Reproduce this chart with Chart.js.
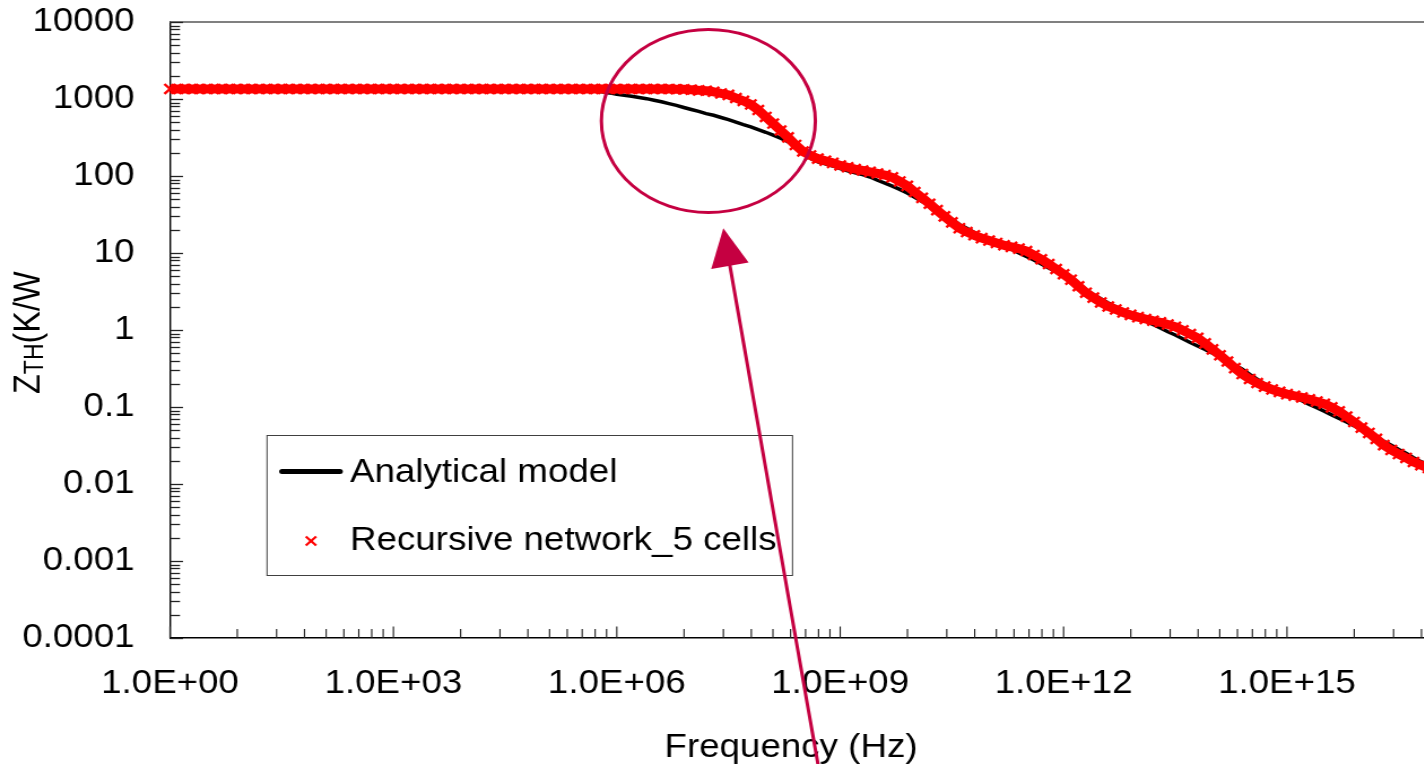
<!DOCTYPE html>
<html><head><meta charset="utf-8">
<script src="https://cdn.jsdelivr.net/npm/chart.js@4.4.1/dist/chart.umd.min.js"></script>
<style>
html,body{margin:0;padding:0;background:#fff;width:1424px;height:764px;overflow:hidden;}
#wrap{position:relative;width:1424px;height:764px;overflow:hidden;background:#fff;}
#c{position:absolute;left:0;top:0;transform:scaleX(1.13);transform-origin:0 0;}
</style></head>
<body><div id="wrap"><canvas id="c" width="1346" height="764" style="width:1346px;height:764px"></canvas></div>
<script>
// ---- data ----
const logFreq = [0,0.1,0.2,0.3,0.4,0.5,0.6,0.7,0.8,0.9,1,1.1,1.2,1.3,1.4,1.5,1.6,1.7,1.8,1.9,2,2.1,2.2,2.3,2.4,2.5,2.6,2.7,2.8,2.9,3,3.1,3.2,3.3,3.4,3.5,3.6,3.7,3.8,3.9,4,4.1,4.2,4.3,4.4,4.5,4.6,4.7,4.8,4.9,5,5.1,5.2,5.3,5.4,5.5,5.6,5.7,5.8,5.9,6,6.1,6.2,6.3,6.4,6.5,6.6,6.7,6.8,6.9,7,7.1,7.2,7.3,7.4,7.5,7.6,7.7,7.8,7.9,8,8.1,8.2,8.3,8.4,8.5,8.6,8.7,8.8,8.9,9,9.1,9.2,9.3,9.4,9.5,9.6,9.7,9.8,9.9,10,10.1,10.2,10.3,10.4,10.5,10.6,10.7,10.8,10.9,11,11.1,11.2,11.3,11.4,11.5,11.6,11.7,11.8,11.9,12,12.1,12.2,12.3,12.4,12.5,12.6,12.7,12.8,12.9,13,13.1,13.2,13.3,13.4,13.5,13.6,13.7,13.8,13.9,14,14.1,14.2,14.3,14.4,14.5,14.6,14.7,14.8,14.9,15,15.1,15.2,15.3,15.4,15.5,15.6,15.7,15.8,15.9,16,16.1,16.2,16.3,16.4,16.5,16.6,16.7,16.8,16.9,17];

const zthAnalytical = [
1350,1350,1350,1350,1350,1350,1350,1350,1350,1350,
1350,1350,1350,1350,1350,1350,1350,1350,1350,1350,
1350,1350,1350,1350,1350,1350,1350,1350,1350,1350,
1350,1350,1350,1350,1350,1350,1350,1350,1350,1350,
1350,1350,1350,1350,1350,1350,1350,1350,1350,1350,
1350,1345,1340,1330,1320,1305,1290,1270,1240,1200,
1150,1120,1085,1045,1010,965,920,870,825,775,
730,690,645,615,575,540,500,465,435,400,
370,340,310,278,245,217,170,153,144,135,
125,117,110,104,97,88,81,74,67,60,
53,46.5,41.5,37,32,27.5,23.5,21,18.5,16.6,
15,13.8,12.3,11.2,10.0,9.0,8.1,7.2,6.4,5.7,
5.0,4.5,3.9,3.3,2.9,2.55,2.25,2.0,1.81,1.62,
1.46,1.31,1.18,1.06,0.95,0.86,0.77,0.69,0.62,0.56,
0.50,0.45,0.40,0.35,0.31,0.265,0.23,0.20,0.18,0.163,
0.15,0.135,0.121,0.108,0.098,0.088,0.079,0.071,0.064,0.057,
0.051,0.046,0.041,0.036,0.032,0.028,0.025,0.022,0.0195,0.0177,
0.0155];

const zthNetwork = [
1350,1350,1350,1350,1350,1350,1350,1350,1350,1350,
1350,1350,1350,1350,1350,1350,1350,1350,1350,1350,
1350,1350,1350,1350,1350,1350,1350,1350,1350,1350,
1350,1350,1350,1350,1350,1350,1350,1350,1350,1350,
1350,1350,1350,1350,1350,1350,1350,1350,1350,1350,
1350,1350,1350,1350,1350,1350,1350,1350,1350,1350,
1350,1350,1350,1350,1350,1350,1350,1350,1340,1335,
1320,1295,1280,1240,1180,1130,1030,945,850,720,
585,480,390,317,253,208,185,168,158,148,
137,130,123,118,113,108,103,96,85,74.5,
62,52,43.6,36,29.9,25,21,18.7,17.0,15.6,
14.5,13.5,12.6,12.0,11.4,10.6,9.4,8.3,7.2,6.2,
5.3,4.5,3.7,3.05,2.63,2.28,2.02,1.85,1.69,1.57,
1.47,1.39,1.32,1.26,1.18,1.10,0.99,0.885,0.79,0.67,
0.56,0.47,0.39,0.32,0.268,0.231,0.205,0.184,0.169,0.157,
0.147,0.140,0.133,0.126,0.118,0.110,0.099,0.088,0.075,0.064,
0.054,0.046,0.0385,0.032,0.0277,0.0245,0.0218,0.0193,0.0176,0.0161,
0.0150];

const seriesNames = ['Analytical model', 'Recursive network_5 cells'];
const xTickLabels = ['1.0E+00','1.0E+03','1.0E+06','1.0E+09','1.0E+12','1.0E+15'];
const yTickLabels = ['0.0001','0.001','0.01','0.1','1','10','100','1000','10000'];
const xTitle = 'Frequency (Hz)';
const yTitleMain = 'Z', yTitleSub = 'TH', yTitleRest = '(K/W';

// ---- presentation ----
const S = 1.13;                       // horizontal stretch of the original figure
const FONT = '"Liberation Sans", Arial, Helvetica, sans-serif';
const FS = 32.5;
const CRIMSON = '#C50041';
const rx = v => v / S;                // reference px -> canvas px (horizontal)

const toPts = ys => logFreq.map((e, i) => ({x: Math.pow(10, e), y: ys[i]}));

const decor = {
  id: 'decor',
  beforeDatasetsDraw(chart) {
    const {ctx, chartArea: a, scales: {x, y}} = chart;
    ctx.save();
    ctx.strokeStyle = '#808080'; ctx.lineWidth = 2;
    ctx.beginPath(); ctx.moveTo(a.left, a.top); ctx.lineTo(a.right, a.top); ctx.stroke();
    ctx.strokeStyle = '#222'; ctx.lineWidth = 1.3;
    y.ticks.forEach(t => {
      const py = Math.round(y.getPixelForValue(t.value)) + 0.5;
      const len = (t.major ? 13 : 10) / S;
      ctx.beginPath(); ctx.moveTo(a.left, py); ctx.lineTo(a.left + len, py); ctx.stroke();
    });
    ctx.lineWidth = 1.3 / S;
    x.ticks.forEach(t => {
      const px = x.getPixelForValue(t.value);
      const len = t.major ? 11.5 : 9;
      ctx.beginPath(); ctx.moveTo(px, a.bottom); ctx.lineTo(px, a.bottom - len); ctx.stroke();
    });
    ctx.restore();
  },
  afterDraw(chart) {
    const {ctx, scales: {x, y}} = chart;
    const ds = chart.data.datasets;
    ctx.save();
    // legend
    ctx.strokeStyle = '#404040'; ctx.lineWidth = 1;
    ctx.strokeRect(rx(267), 435.5, rx(792.5) - rx(267), 140);
    ctx.strokeStyle = '#000'; ctx.lineWidth = 5; ctx.lineCap = 'round';
    ctx.beginPath(); ctx.moveTo(rx(282), 471.5); ctx.lineTo(rx(340), 471.5); ctx.stroke();
    ctx.lineCap = 'butt';
    ctx.fillStyle = '#000'; ctx.font = FS + 'px ' + FONT;
    ctx.textAlign = 'left'; ctx.textBaseline = 'alphabetic';
    ctx.fillText(ds[0].label, rx(350), 482);
    ctx.strokeStyle = '#FF0000'; ctx.lineWidth = 2.2;
    Chart.helpers.drawPoint(ctx, {pointStyle: 'crossRot', radius: 6.5, borderWidth: 2.2, rotation: 0}, rx(311), 541);
    ctx.fillText(ds[1].label, rx(350), 550);
    // x title
    ctx.textAlign = 'center';
    ctx.fillText(xTitle, rx(791), 757);
    // y title (rotated, with subscript)
    ctx.save();
    ctx.translate(rx(39), 394);
    ctx.rotate(-Math.PI / 2);
    ctx.textAlign = 'left';
    ctx.font = FS + 'px ' + FONT;
    ctx.fillText(yTitleMain, 0, 0);
    let w = ctx.measureText(yTitleMain).width;
    ctx.font = '23px ' + FONT;
    ctx.fillText(yTitleSub, w, 3);
    w += ctx.measureText(yTitleSub).width;
    ctx.font = FS + 'px ' + FONT;
    ctx.fillText(yTitleRest, w, 0);
    ctx.restore();
    // annotation ellipse, anchored on the data scales
    const cx = x.getPixelForValue(Math.pow(10, 7.23));
    const cy = y.getPixelForValue(Math.pow(10, 2.714));
    ctx.strokeStyle = CRIMSON; ctx.lineWidth = 3;
    ctx.beginPath(); ctx.ellipse(cx, cy, 107 / S, 91.5, 0, 0, Math.PI * 2); ctx.stroke();
    // annotation arrow (reference px)
    const tip = [723.3, 228.3], d = [0.174, 0.985], pn = [0.985, -0.174];
    const hl = 38, hw = 19;
    const base = [tip[0] + hl * d[0], tip[1] + hl * d[1]];
    const end = [tip[0] + 600 * d[0], tip[1] + 600 * d[1]];
    ctx.lineWidth = 3;
    ctx.beginPath(); ctx.moveTo(rx(base[0] - 2 * d[0]), base[1] - 2 * d[1]); ctx.lineTo(rx(end[0]), end[1]); ctx.stroke();
    ctx.fillStyle = CRIMSON;
    ctx.beginPath();
    ctx.moveTo(rx(tip[0]), tip[1]);
    ctx.lineTo(rx(base[0] + hw * pn[0]), base[1] + hw * pn[1]);
    ctx.lineTo(rx(base[0] - hw * pn[0]), base[1] - hw * pn[1]);
    ctx.closePath(); ctx.fill();
    ctx.restore();
  }
};

new Chart(document.getElementById('c'), {
  type: 'scatter',
  data: {
    datasets: [
      {label: seriesNames[0], data: toPts(zthAnalytical), showLine: true, borderColor: '#000', borderWidth: 3.5,
       pointRadius: 0, fill: false, order: 1, tension: 0},
      {label: seriesNames[1], data: toPts(zthNetwork), showLine: true, borderColor: '#FF0000', borderWidth: 9,
       borderJoinStyle: 'round', borderCapStyle: 'butt', tension: 0, fill: false,
       pointStyle: 'crossRot', pointRadius: 7,
       pointBorderWidth: 2.4, pointBorderColor: '#FF0000', pointBackgroundColor: '#FF0000', order: 0, clip: false}
    ]
  },
  options: {
    responsive: false, animation: false, events: [],
    layout: {padding: {top: 22, right: 1346 - 1512 / S, left: 0, bottom: 0}},
    plugins: {legend: {display: false}, tooltip: {enabled: false}},
    scales: {
      x: {
        type: 'logarithmic', position: 'bottom', min: 1, max: 1e18,
        afterBuildTicks(scale) {
          const t = [];
          for (let n = 0; n < 6; n++) for (let k = 1; k <= 9; k++) t.push({value: Math.pow(k, 3) * Math.pow(1000, n), major: k === 1});
          t.push({value: 1e18, major: true});
          scale.ticks = t;
        },
        afterFit(scale) { scale.height = 764 - 638; scale.paddingLeft = 0; scale.paddingRight = 0; },
        grid: {display: true, drawOnChartArea: false, drawTicks: false},
        border: {display: true, color: '#000', width: 1.6},
        ticks: {
          autoSkip: false, maxRotation: 0, minRotation: 0, padding: 26.5, color: '#000',
          font: {family: FONT, size: FS},
          callback(value) {
            const e = Math.log10(value), r = Math.round(e);
            if (Math.abs(e - r) < 1e-9 && r % 3 === 0) { const lab = xTickLabels[r / 3]; return lab === undefined ? '' : lab; }
            return '';
          }
        }
      },
      y: {
        type: 'logarithmic', position: 'left', min: 1e-4, max: 1e4,
        afterBuildTicks(scale) {
          const t = [];
          for (let e = -4; e < 4; e++) for (let k = 1; k <= 9; k++) t.push({value: k * Math.pow(10, e), major: k === 1});
          t.push({value: 1e4, major: true});
          scale.ticks = t;
        },
        afterFit(scale) { scale.width = 170 / S; scale.paddingTop = 0; scale.paddingBottom = 0; },
        grid: {display: true, drawOnChartArea: false, drawTicks: false},
        border: {display: true, color: '#000', width: 1.4},
        ticks: {
          autoSkip: false, padding: 31.4, color: '#000',
          font: {family: FONT, size: FS},
          callback(value) {
            const e = Math.log10(value), r = Math.round(e);
            if (Math.abs(e - r) < 1e-9) { const lab = yTickLabels[r + 4]; return lab === undefined ? '' : lab; }
            return '';
          }
        }
      }
    }
  },
  plugins: [decor]
});
</script></body></html>
